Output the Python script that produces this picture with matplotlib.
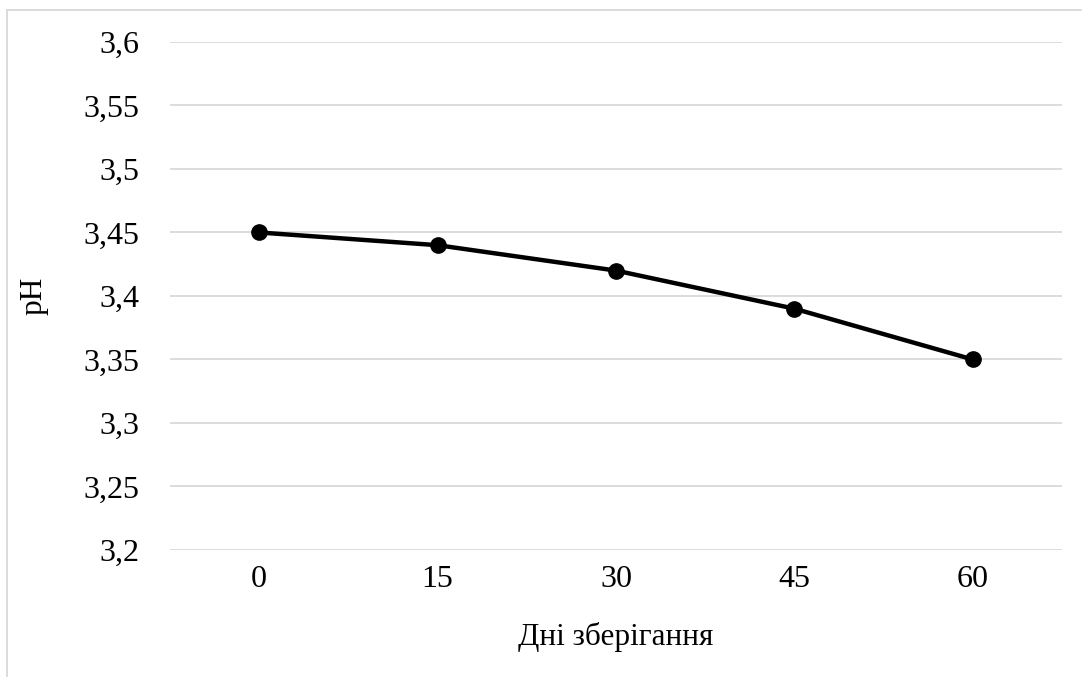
import matplotlib.pyplot as plt
from matplotlib.lines import Line2D
from matplotlib.ticker import FuncFormatter

days = ["0", "15", "30", "45", "60"]
ph = [3.45, 3.44, 3.42, 3.39, 3.35]
y_ticks = [3.2, 3.25, 3.3, 3.35, 3.4, 3.45, 3.5, 3.55, 3.6]

plt.rcParams['font.family'] = ['Liberation Serif', 'DejaVu Serif']

fig = plt.figure(figsize=(10.82, 6.77), dpi=100)
ax = fig.add_axes([0.1571, 0.1876, 0.8244, 0.7504])

x = list(range(len(days)))
ax.plot(x, ph, color='black', linewidth=3.2, marker='o', markersize=11,
        solid_capstyle='round', zorder=3)

ax.set_xlim(-0.5, len(days) - 0.5)
ax.set_ylim(3.2, 3.6)
ax.set_yticks(y_ticks)
ax.yaxis.set_major_formatter(FuncFormatter(lambda v, p: ('%g' % round(v, 2)).replace('.', ',')))
ax.set_xticks(x)
ax.set_xticklabels(days)

ax.grid(axis='y', color='#d9d9d9', linewidth=1.3)
ax.set_axisbelow(True)
for s in ax.spines.values():
    s.set_visible(False)
ax.tick_params(length=0, labelsize=23)
ax.tick_params(axis='y', pad=22)
ax.tick_params(axis='x', pad=11)

ax.set_xlabel('Дні зберігання', fontsize=22.5, labelpad=20)
ax.set_ylabel('pH', fontsize=22.5, labelpad=25)

# light chart-area border (left and top)
fig.add_artist(Line2D([7 / 1082, 7 / 1082], [0, 1 - 10 / 677], color='#d9d9d9', linewidth=1.3))
fig.add_artist(Line2D([7 / 1082, 1], [1 - 10 / 677, 1 - 10 / 677], color='#d9d9d9', linewidth=1.3))

fig.savefig('out.png', dpi=100, facecolor='white')
